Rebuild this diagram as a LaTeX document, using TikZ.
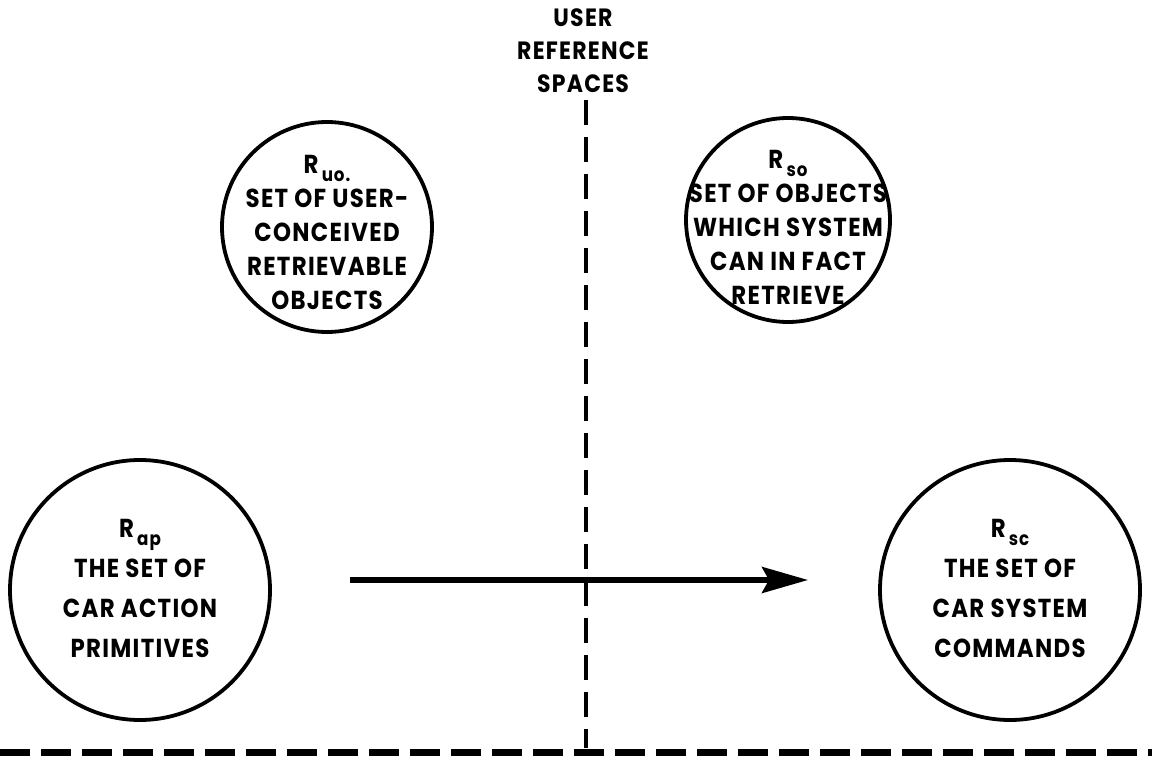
\documentclass[tikz,border=0pt]{standalone}
\usepackage{fontspec}
\setmainfont{Poppins}[BoldFont={* Bold}, LetterSpace=5, FakeStretch=0.88]
\usetikzlibrary{arrows.meta}
\tikzset{
  ring/.style={circle, draw=black, line width=3.8pt, inner sep=0pt},
  lbl/.style={align=center, font=\bfseries\fontsize{26}{34}\selectfont, inner sep=0pt},
  lblb/.style={align=center, font=\bfseries\fontsize{26}{40}\selectfont, inner sep=0pt},
  vdash/.style={line width=3.8pt, dash pattern=on 25pt off 12pt},
  hdash/.style={line width=7pt, dash pattern=on 30pt off 11pt},
  arrowline/.style={line width=5.5pt, -{Stealth[length=46pt, width=26pt, inset=7pt]}}
}
\newcommand{\sbs}[1]{\raisebox{-0.55ex}{\fontsize{19}{19}\selectfont\,#1}}
\begin{document}
\begin{tikzpicture}[x=1pt, y=-1pt]
\useasboundingbox (0,0) rectangle (1152,762);
% title
\node[lbl, font=\bfseries\fontsize{25}{33}\selectfont] (title) at (583,51) {USER\\REFERENCE\\SPACES};
% dashed lines
\coordinate (vt) at (586,100);
\coordinate (vb) at (586,748);
\coordinate (hl) at (0,752);
\coordinate (hr) at (1152,752);
\draw[vdash] (vt) -- (vb);
\draw[hdash] (hl) -- (hr);
% circles
\node[ring, minimum size=210pt] (ruo) at (327,227) {};
\node[lbl] (ruot) at (327,232) {R\sbs{uo.}\\SET OF USER-\\CONCEIVED\\RETRIEVABLE\\OBJECTS};
\node[ring, minimum size=204pt] (rso) at (788,220) {};
\node[lbl] (rsot) at (788,227) {R\sbs{so}\\SET OF OBJECTS\\WHICH SYSTEM\\CAN IN FACT\\RETRIEVE};
\node[ring, minimum size=260pt] (rap) at (140,590) {};
\node[lblb] (rapt) at (140,588) {R\sbs{ap}\\THE SET OF\\CAR ACTION\\PRIMITIVES};
\node[ring, minimum size=260pt] (rsc) at (1010,590) {};
\node[lblb] (rsct) at (1010,588) {R\sbs{sc}\\THE SET OF\\CAR SYSTEM\\COMMANDS};
% arrow
\coordinate (a1) at (350,580);
\coordinate (a2) at (808,580);
\draw[arrowline] (a1) -- (a2);
\end{tikzpicture}
\end{document}
